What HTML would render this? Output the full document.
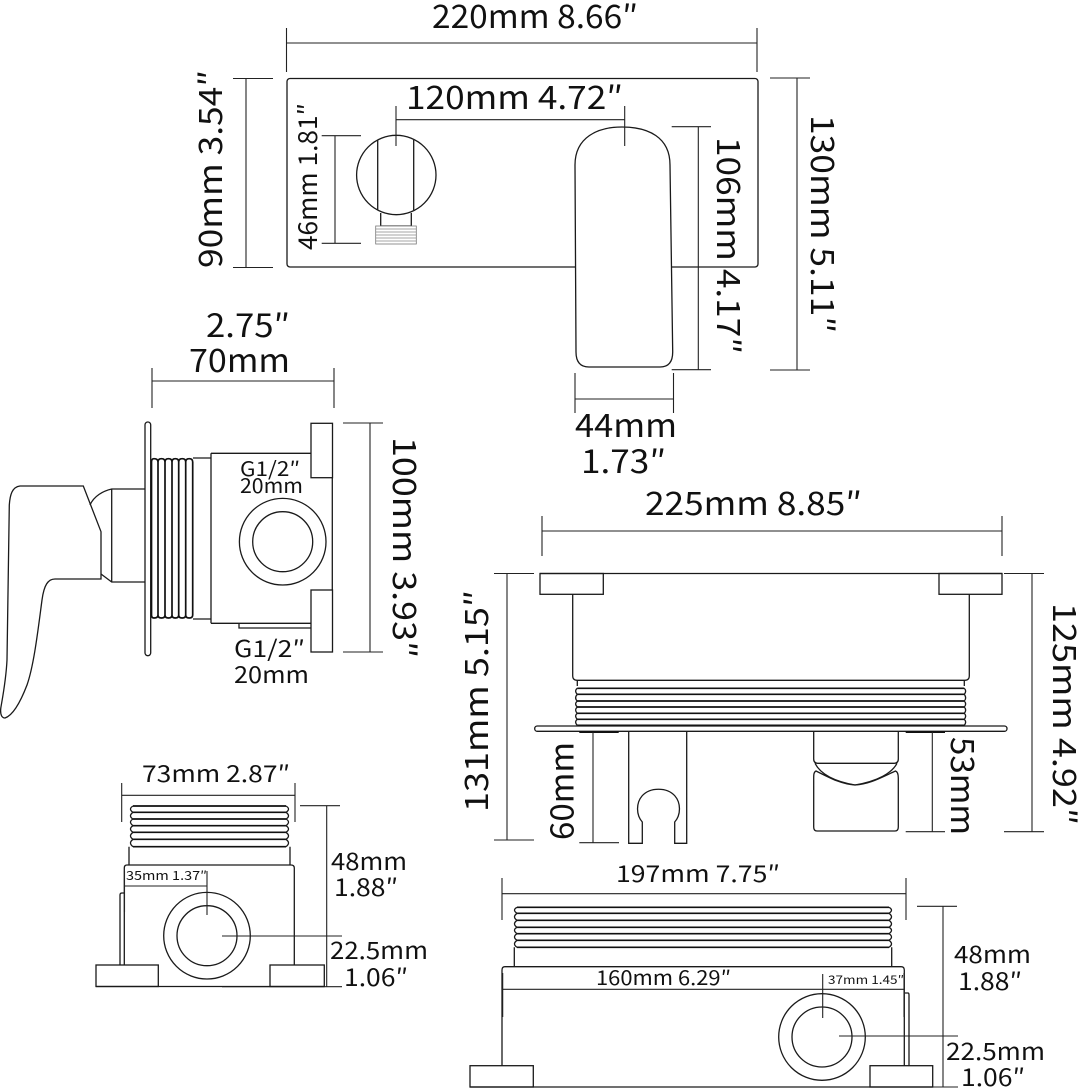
<!DOCTYPE html>
<html><head><meta charset="utf-8"><style>
html,body{margin:0;padding:0;background:#fff}
svg{display:block}
text{font-family:"Noto Sans CJK SC","Liberation Sans",sans-serif;fill:#111}
.s{fill:none;stroke:#1a1a1a;stroke-width:1.3}
.f{fill:#fff;stroke:#1a1a1a;stroke-width:1.3}
.d{fill:none;stroke:#222;stroke-width:1.1}
.t{fill:none;stroke:#111;stroke-width:1.7}
</style></head><body>
<svg width="1080" height="1090" viewBox="0 0 1080 1090" xmlns="http://www.w3.org/2000/svg">
<!-- top view -->
<rect class="s" x="287" y="78.5" width="471" height="188.5" rx="3"/>
<path class="f" d="M576,352 L575,165 C575,137 598,127 622,127 C648,127 670,137 670,165 L672.7,352 Q672.7,367 660,367 L589,367 Q576,367 576,352 Z"/>
<circle class="s" cx="396.3" cy="175" r="39.7"/>
<path class="s" d="M377.7,140V210M413.7,140V210M380.7,213V226H411.3V213"/>
<rect x="375.7" y="226" width="40.6" height="18" fill="#fff" stroke="#777" stroke-width=".8"/>
<path d="M375.7,229H416.3M375.7,232H416.3M375.7,235H416.3M375.7,238H416.3M375.7,241H416.3" stroke="#888" stroke-width=".7"/>
<path class="d" d="M286.5,28V72M757,28V72M286.5,43H757M233,78.5H273M233,267.5H273M246,78.5V267.5M770,78H810M770,370H810M797,78V370M321.7,135.7H361M321.7,243.3H361M335,135.7V243.3M396,106V146M624.7,106V146M396,119.7H624.7M671.7,126.7H711M671.7,369.7H711M698.3,126.7V369.7M575,373V413M673.5,373V413M575,399H673.5"/>
<text x="432" y="28" font-size="32" textLength="206" lengthAdjust="spacingAndGlyphs">220mm 8.66″</text>
<text x="406" y="109" font-size="32" textLength="217" lengthAdjust="spacingAndGlyphs">120mm 4.72″</text>
<text transform="translate(317,250) rotate(-90)" font-size="26" textLength="147" lengthAdjust="spacingAndGlyphs">46mm 1.81″</text>
<text transform="translate(222,268) rotate(-90)" font-size="32" textLength="198" lengthAdjust="spacingAndGlyphs">90mm 3.54″</text>
<text transform="translate(717,137) rotate(90)" font-size="32" textLength="217" lengthAdjust="spacingAndGlyphs">106mm 4.17″</text>
<text transform="translate(811,115) rotate(90)" font-size="32" textLength="218" lengthAdjust="spacingAndGlyphs">130mm 5.11″</text>
<text x="575" y="437" font-size="32" textLength="102" lengthAdjust="spacingAndGlyphs">44mm</text>
<text x="581" y="473" font-size="32" textLength="85" lengthAdjust="spacingAndGlyphs">1.73″</text>
<!-- side view -->
<text x="206" y="337" font-size="32" textLength="84" lengthAdjust="spacingAndGlyphs">2.75″</text>
<text x="189" y="372" font-size="32" textLength="101" lengthAdjust="spacingAndGlyphs">70mm</text>
<path class="d" d="M152,368V408M334,368V408M152,381H334M343,423H383M343,652H383M370,423V652"/>
<text transform="translate(393,437) rotate(90)" font-size="32" textLength="221" lengthAdjust="spacingAndGlyphs">100mm 3.93″</text>
<rect class="s" x="145" y="422" width="5.7" height="233.7" rx="2.8"/>
<path class="s" d="M211,453.3H311M211,623.3H311M332.3,477.7V590M211,453.3V623.3M193,458H211M193,619H211M239,623.3V628H311"/>
<path class="t" d="M151.5,462Q151.5,458.7 154,458.7Q158,458.7 158,462V615Q158,618 154,618Q151.5,618 151.5,615ZM158,462Q158,458.7 161.5,458.7Q165,458.7 165,462V615Q165,618 161.5,618Q158,618 158,615M165,462Q165,458.7 168.5,458.7Q172,458.7 172,462V615Q172,618 168.5,618Q165,618 165,615M172,462Q172,458.7 175.3,458.7Q178.7,458.7 178.7,462V615Q178.7,618 175.3,618Q172,618 172,615M178.7,462Q178.7,458.7 182.2,458.7Q185.7,458.7 185.7,462V615Q185.7,618 182.2,618Q178.7,618 178.7,615M185.7,462Q185.7,458.7 189.2,458.7Q192.7,458.7 192.7,462V615Q192.7,618 189.2,618Q185.7,618 185.7,615"/>
<rect class="f" x="311" y="423.3" width="21.5" height="54.4"/>
<rect class="f" x="311" y="590" width="21.5" height="62"/>
<circle class="s" cx="282.7" cy="541.7" r="43.3"/>
<circle class="s" cx="282.7" cy="541.7" r="30"/>
<path class="f" d="M83.3,486H20C12,487 10,495 9.3,505L7,660C6,680 3,695 .8,708C0,715 2,718 5,718C14,715 22,698 27,685C34,665 38,630 42,600C44,585 48,579 55,579H101V531.7Z"/>
<path class="s" d="M90,505C94,496 103,491 111.7,489H145M111.7,489V582M101,574L111.7,582H145"/>
<text x="240" y="476" font-size="20" textLength="60" lengthAdjust="spacingAndGlyphs">G1/2″</text>
<text x="240" y="493" font-size="20" textLength="63" lengthAdjust="spacingAndGlyphs">20mm</text>
<text x="234" y="657" font-size="23" textLength="71" lengthAdjust="spacingAndGlyphs">G1/2″</text>
<text x="234" y="683" font-size="23" textLength="75" lengthAdjust="spacingAndGlyphs">20mm</text>
<!-- front view -->
<path class="d" d="M542,516V556M1002,516V556M542,531H1002M494,573.5H534M494,840H534M507,573.5V840M1004,573.5H1044M1004,831.7H1044M1032,573.5V831.7"/>
<text x="645" y="515" font-size="32" textLength="217" lengthAdjust="spacingAndGlyphs">225mm 8.85″</text>
<text transform="translate(488,812) rotate(-90)" font-size="32" textLength="222" lengthAdjust="spacingAndGlyphs">131mm 5.15″</text>
<text transform="translate(1053,603) rotate(90)" font-size="32" textLength="222" lengthAdjust="spacingAndGlyphs">125mm 4.92″</text>
<text transform="translate(573.3,840) rotate(-90)" font-size="32" textLength="98" lengthAdjust="spacingAndGlyphs">60mm</text>
<text transform="translate(951,737) rotate(90)" font-size="32" textLength="98" lengthAdjust="spacingAndGlyphs">53mm</text>
<path class="s" d="M540,573.5H1002M572.7,594V676Q572.7,680.3 577,680.3H965Q969.3,680.3 969.3,676V594"/>
<rect class="s" x="540" y="573.5" width="63.3" height="20.8"/>
<rect class="s" x="939" y="573.5" width="63" height="20.8"/>
<path class="s" d="M577.3,680.5V686M964.3,680.5V686"/>
<path class="t" d="M577.3,688.3H964.3M577.3,694.3H964.3M577.3,701H964.3M577.3,707H964.3M577.3,713.3H964.3M577.3,719.3H964.3M577.3,725.3H964.3"/>
<path class="s" d="M577.3,688.3Q574,691 577.3,694.3Q574,698 577.3,701Q574,704 577.3,707Q574,710 577.3,713.3Q574,716 577.3,719.3Q574,722 577.3,725.3M964.3,688.3Q967,691 964.3,694.3Q967,698 964.3,701Q967,704 964.3,707Q967,710 964.3,713.3Q967,716 964.3,719.3Q967,722 964.3,725.3"/>
<rect class="f" x="534.7" y="726" width="472.3" height="5.3" rx="2.6"/>
<path d="M579.3,732H618.7M905.7,732H945" stroke="#111" stroke-width="2"/>
<path class="d" d="M593,732V843M579.3,842.7H619M932.3,732V832M905.7,831.7H945"/>
<path class="s" d="M628.7,731V843.3H642.3V822C636,815 636,803 642,796C650,787 667,787 675,796C681,803 681,815 674.7,822V843.3H686.7V731"/>
<path class="s" d="M813.7,731V759Q813.7,763.3 818,763.3H894Q898.3,763.3 898.3,759V731"/>
<path class="s" d="M815,763.3C820,773 832,781 855,785C878,781 892,773 897,763.3"/>
<path class="s" d="M816,771C813.7,772 813.7,775 813.7,778V827Q813.7,831 817,831H895Q898.3,831 898.3,827V778Q898.3,772 895.5,771C880,778 870,784 855,785C841,784 830,778 816,771Z"/>
<!-- lower-left -->
<path class="d" d="M121.7,783V822M295,783V822M121.7,795.3H295M300,805.7H340M326.7,806V987M222,936H342M222,986.7H342"/>
<text x="142" y="782" font-size="23" textLength="148" lengthAdjust="spacingAndGlyphs">73mm 2.87″</text>
<path class="t" d="M133,806H286M133,812.3H286M133,819H286M133,825.7H286M133,832.3H286M133,839.3H286M133,846.7H286"/>
<path class="s" d="M133,806Q128,809 133,812.3Q128,816 133,819Q128,822 133,825.7Q128,829 133,832.3Q128,836 133,839.3Q128,843 133,846.7M286,806Q291,809 286,812.3Q291,816 286,819Q291,822 286,825.7Q291,829 286,832.3Q291,836 286,839.3Q291,843 286,846.7"/>
<path class="s" d="M129,846.7V864.7M290,846.7V864.7M124.3,965V868Q124.3,865 127,865H291Q294.3,865 294.3,868V965M120,965V895Q120,893 122,893H124"/>
<rect class="f" x="96" y="965" width="62.3" height="21.5"/>
<rect class="f" x="270" y="965" width="54.3" height="21.5"/>
<path class="s" d="M96,986.5H324"/>
<circle class="s" cx="207" cy="935.7" r="43.3"/>
<circle class="s" cx="207" cy="935.7" r="30"/>
<path class="d" d="M124,886H207M207,871V915M124.5,871V912M222,936H342"/>
<text x="126" y="880" font-size="12.5" textLength="81" lengthAdjust="spacingAndGlyphs">35mm 1.37″</text>
<text x="331" y="870" font-size="24" textLength="76" lengthAdjust="spacingAndGlyphs">48mm</text>
<text x="334" y="896" font-size="24" textLength="64" lengthAdjust="spacingAndGlyphs">1.88″</text>
<text x="330" y="959" font-size="24" textLength="98" lengthAdjust="spacingAndGlyphs">22.5mm</text>
<text x="344" y="986" font-size="24" textLength="64" lengthAdjust="spacingAndGlyphs">1.06″</text>
<!-- lower-right -->
<path class="d" d="M502,878V920M906,878V920M502,893.7H906M917,906.3H957M943,906.3V1087M839,1036H958M839,1087H958"/>
<text x="616" y="882" font-size="23" textLength="164" lengthAdjust="spacingAndGlyphs">197mm 7.75″</text>
<path class="t" d="M517,907.3H889M517,913.3H889M517,920.3H889M517,927.3H889M517,933.7H889M517,940.3H889M517,947.3H889"/>
<path class="s" d="M517,907.3Q512,910 517,913.3Q512,917 517,920.3Q512,924 517,927.3Q512,930 517,933.7Q512,937 517,940.3Q512,944 517,947.3M889,907.3Q894,910 889,913.3Q894,917 889,920.3Q894,924 889,927.3Q894,930 889,933.7Q894,937 889,940.3Q894,944 889,947.3"/>
<path class="s" d="M514.3,947.3V966.7M891.7,947.3V966.7M502,1065.7V970Q502,966.7 505,966.7H901Q904.3,966.7 904.3,970V1065.7M905,993H908Q909,993 909,995V1065.7"/>
<rect class="f" x="470" y="1065.7" width="63.3" height="21.3"/>
<rect class="f" x="870" y="1065.7" width="62.7" height="21.3"/>
<path class="s" d="M470,1087H932.7"/>
<circle class="s" cx="822" cy="1037" r="43.3"/>
<circle class="s" cx="822" cy="1037" r="30"/>
<path class="d" d="M502,989.3H904M502.7,973V1017M904,973V1017M822.7,974V1018M839,1036H958"/>
<text x="596" y="985" font-size="20" textLength="135" lengthAdjust="spacingAndGlyphs">160mm 6.29″</text>
<text x="828" y="984" font-size="11.5" textLength="76" lengthAdjust="spacingAndGlyphs">37mm 1.45″</text>
<text x="954" y="963" font-size="24" textLength="77" lengthAdjust="spacingAndGlyphs">48mm</text>
<text x="958" y="990" font-size="24" textLength="64" lengthAdjust="spacingAndGlyphs">1.88″</text>
<text x="946" y="1060" font-size="24" textLength="99" lengthAdjust="spacingAndGlyphs">22.5mm</text>
<text x="961" y="1086" font-size="24" textLength="64" lengthAdjust="spacingAndGlyphs">1.06″</text>
</svg>
</body></html>
